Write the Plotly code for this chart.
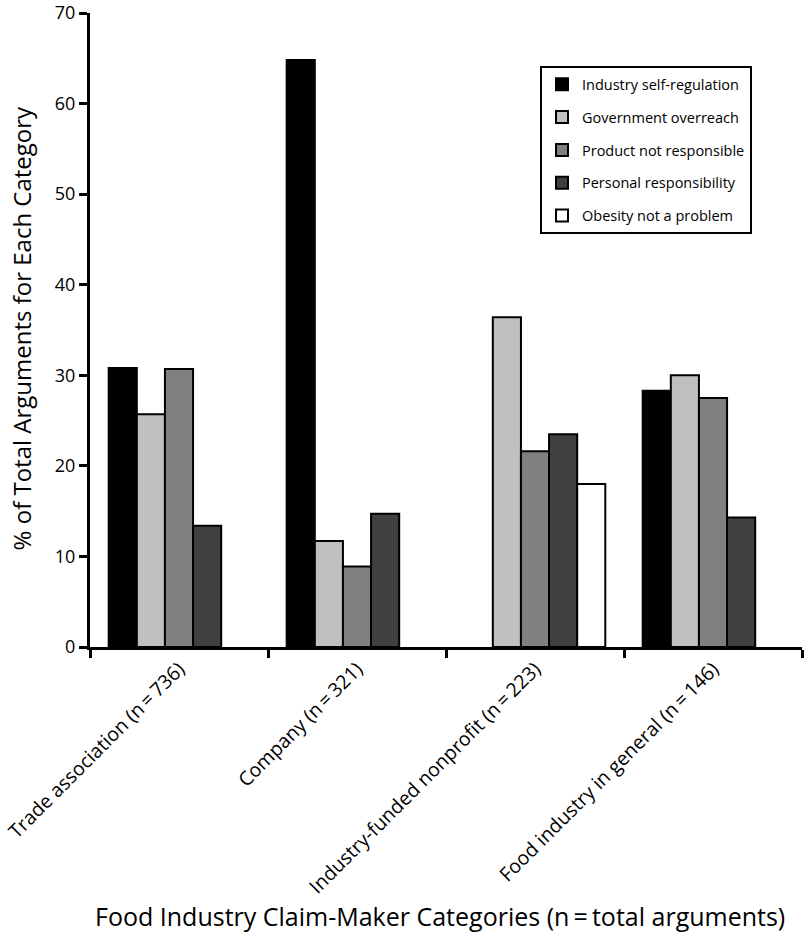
import plotly.graph_objects as go

categories = [
    "Trade association (n\u2009=\u2009736)",
    "Company (n\u2009=\u2009321)",
    "Industry-funded nonprofit (n\u2009=\u2009223)",
    "Food industry in general (n\u2009=\u2009146)",
]
series_names = [
    "Industry self-regulation",
    "Government overreach",
    "Product not responsible",
    "Personal responsibility",
    "Obesity not a problem",
]
industry_self_regulation = [30.8, 64.8, None, 28.3]
government_overreach = [25.7, 11.7, 36.4, 30.0]
product_not_responsible = [30.7, 8.9, 21.6, 27.5]
personal_responsibility = [13.4, 14.7, 23.5, 14.3]
obesity_not_a_problem = [None, None, 18.0, None]
series_values = [
    industry_self_regulation,
    government_overreach,
    product_not_responsible,
    personal_responsibility,
    obesity_not_a_problem,
]
colors = ["#000000", "#c0c0c0", "#808080", "#404040", "#ffffff"]
y_ticks = [0, 10, 20, 30, 40, 50, 60, 70]
x_title = "Food Industry Claim-Maker Categories (n\u2009=\u2009total arguments)"
y_title = "% of Total Arguments for Each Category"

FONT = "Open Sans"

fig = go.Figure()
for name, vals, col in zip(series_names, series_values, colors):
    fig.add_trace(go.Bar(
        x=categories, y=vals, name=name, legendgroup=name,
        marker=dict(color=col, line=dict(color="#000000", width=2)),
    ))

fig.update_layout(
    width=805, height=939,
    margin=dict(l=90, r=3, t=13, b=292),
    paper_bgcolor="white", plot_bgcolor="white",
    barmode="group", bargap=0.21, bargroupgap=0,
    font=dict(family=FONT, color="black"),
    showlegend=True,
    legend=dict(
        x=0.632, y=0.916, xanchor="left", yanchor="top",
        bordercolor="black", borderwidth=2, bgcolor="white",
        font=dict(size=14.5, family=FONT),
        tracegroupgap=11, traceorder="grouped",
    ),
    xaxis=dict(
        automargin=False,
        showline=True, linecolor="black", linewidth=3,
        ticks="outside", tickson="boundaries", ticklen=8, tickwidth=3, tickcolor="black",
        tickangle=-45, tickfont=dict(size=19.5, family=FONT),
        ticklabeloverflow="allow",
        showgrid=False, zeroline=False,
    ),
    yaxis=dict(
        automargin=False,
        range=[0, 70], tickmode="array", tickvals=y_ticks,
        ticklabeloverflow="allow",
        showline=True, linecolor="black", linewidth=3,
        ticks="outside", ticklen=8, tickwidth=3, tickcolor="black",
        tickfont=dict(size=18, family=FONT),
        showgrid=False, zeroline=False,
    ),
    annotations=[
        dict(text=x_title, xref="paper", yref="paper", x=0.4909, y=-0.425,
             xanchor="center", yanchor="middle", showarrow=False,
             font=dict(size=25, family=FONT)),
        dict(text=y_title, xref="paper", yref="paper", x=-0.096, y=0.502,
             xanchor="center", yanchor="middle", showarrow=False, textangle=-90,
             font=dict(size=24, family=FONT)),
    ],
)

fig.write_html("out.html", config={"displayModeBar": False},
               post_script="document.body.style.margin='0';")
